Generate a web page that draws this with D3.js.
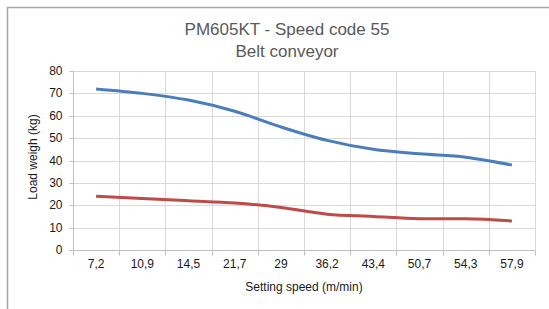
<!DOCTYPE html>
<html><head><meta charset="utf-8">
<script src="https://cdn.jsdelivr.net/npm/d3@7/dist/d3.min.js"></script>
<style>body{margin:0;background:#fff}svg{display:block;font-family:"Liberation Sans",Arial,sans-serif}</style>
</head><body><svg id="c" width="549" height="309"></svg>
<script>
const categories = ["7,2","10,9","14,5","21,7","29","36,2","43,4","50,7","54,3","57,9"];
const seriesHigh = [72,70,67,62,55,49,45,43,41.5,38];
const seriesLow = [24,23,22,21,19,16,15,14,14,13];
const yTicks = [0,10,20,30,40,50,60,70,80];
const titleLines = ["PM605KT - Speed code 55","Belt conveyor"];
const xTitle = "Setting speed (m/min)";
const yTitle = "Load weigh (kg)";

const svg = d3.select("#c");
const L=73, R=535, T=71, B=250;
// outer frame
svg.append("rect").attr("x",7.5).attr("y",7.5).attr("width",600).attr("height",400)
  .attr("fill","#fff").attr("stroke","#a6a6a6").attr("stroke-width",1.5);

const x = d3.scaleBand().domain(categories).range([L,R]).padding(0);
const y = d3.scaleLinear().domain([0,80]).range([B,T]);

// gridlines
const g = svg.append("g");
g.selectAll(".hg").data(yTicks.filter(d=>d>0)).join("line")
  .attr("x1",L).attr("x2",R).attr("y1",d=>Math.round(y(d))+0.5).attr("y2",d=>Math.round(y(d))+0.5)
  .attr("stroke","#d9d9d9").attr("stroke-width",1);
const bounds = categories.map(c=>x(c)).concat([R]);
g.selectAll(".vg").data(bounds.slice(1)).join("line")
  .attr("x1",d=>Math.round(d)+0.5).attr("x2",d=>Math.round(d)+0.5).attr("y1",T).attr("y2",B)
  .attr("stroke","#d9d9d9").attr("stroke-width",1);

// axes
const xAxis = d3.axisBottom(x).tickSize(0).tickPadding(9);
const xg = svg.append("g").attr("transform",`translate(0,${B+0.5})`).call(xAxis);
xg.select(".domain").attr("stroke","#bfbfbf").attr("d",`M${L},0H${R}`);
xg.selectAll("text").attr("font-size",12).attr("fill","#1a1a1a").attr("font-family","Liberation Sans, Arial, sans-serif");
xg.selectAll(".bt").data(bounds).join("line").attr("class","bt")
  .attr("x1",d=>Math.round(d)+0.5).attr("x2",d=>Math.round(d)+0.5).attr("y1",0).attr("y2",5).attr("stroke","#bfbfbf");

const yAxis = d3.axisLeft(y).tickValues(yTicks).tickSize(4).tickPadding(7);
const yg = svg.append("g").attr("transform",`translate(${L+0.5},0)`).call(yAxis);
yg.select(".domain").attr("stroke","#bfbfbf").attr("d",`M0,${T}V${B}`);
yg.selectAll(".tick line").attr("stroke","#bfbfbf");
yg.selectAll(".tick").attr("transform",d=>`translate(0,${Math.round(y(d))+0.5})`);
yg.selectAll("text").attr("font-size",12).attr("fill","#1a1a1a").attr("font-family","Liberation Sans, Arial, sans-serif");

// lines
const line = d3.line().x((d,i)=>x(categories[i])+x.bandwidth()/2).y(d=>y(d)).curve(d3.curveMonotoneX);
svg.append("path").datum(seriesHigh).attr("d",line).attr("fill","none")
  .attr("stroke","#4a7ebb").attr("stroke-width",3).attr("stroke-linejoin","round");
svg.append("path").datum(seriesLow).attr("d",line).attr("fill","none")
  .attr("stroke","#be4b48").attr("stroke-width",3).attr("stroke-linejoin","round");

// titles
svg.selectAll(".tt").data(titleLines).join("text")
  .attr("x",287).attr("y",(d,i)=>35+i*21.5).attr("text-anchor","middle")
  .attr("font-size",17).attr("fill","#595959").text(d=>d);
svg.append("text").attr("x",304).attr("y",291).attr("text-anchor","middle")
  .attr("font-size",12).attr("fill","#1a1a1a").text(xTitle);
svg.append("text").attr("transform","translate(37,157) rotate(-90)").attr("text-anchor","middle")
  .attr("font-size",12).attr("fill","#1a1a1a").text(yTitle);
</script></body></html>
